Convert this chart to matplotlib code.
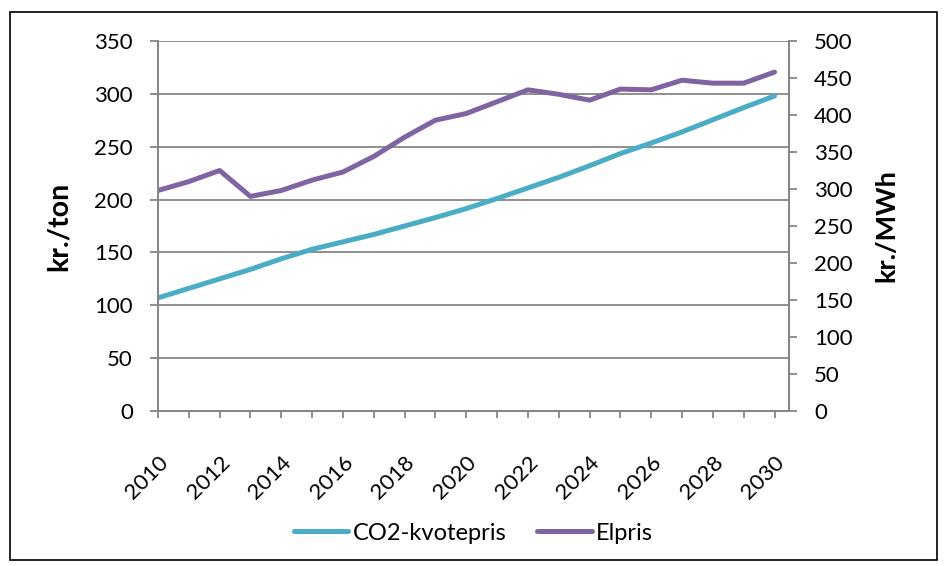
import matplotlib
matplotlib.use("Agg")
import matplotlib.pyplot as plt
from matplotlib.patches import Rectangle

plt.rcParams['font.family'] = ['Lato', 'DejaVu Sans']

years = list(range(2010, 2031))
co2 = [107, 116, 125, 134, 144, 153, 160, 167, 175, 183, 191.5, 201, 211,
       221, 232, 243.5, 253.5, 264, 275.5, 287, 298]
elpris = [298, 310, 325, 290, 298, 312, 323, 344, 370, 393, 402, 418, 434,
          428, 420, 435, 434, 447, 443, 443, 458]
left_ticks = list(range(0, 351, 50))
right_ticks = list(range(0, 501, 50))

grey = '#868686'
fig = plt.figure(figsize=(9.47, 5.66), dpi=100)
fig.patches.append(Rectangle((0.011, 0.01), 0.978, 0.968, transform=fig.transFigure,
                             fill=False, edgecolor='black', linewidth=1.2))
ax = fig.add_axes([158/947, 1-411/566, (789-158)/947, (411-41)/566])
ax2 = ax.twinx()

l1, = ax.plot(years, co2, color='#4BACC6', linewidth=3.6, solid_capstyle='round', label='CO2-kvotepris')
l2, = ax2.plot(years, elpris, color='#8064A2', linewidth=3.6, solid_capstyle='round', label='Elpris')

ax.set_xlim(2010, 2030.47)
ax.set_ylim(0, 350)
ax2.set_ylim(0, 500)
ax.set_yticks(left_ticks)
ax2.set_yticks(right_ticks)
ax.set_xticks(years)
ax.set_xticklabels([str(y) if (y - 2010) % 2 == 0 else '' for y in years], rotation=45,
                   ha='right', rotation_mode='anchor', fontsize=16)
ax.yaxis.grid(True, color=grey, linewidth=1.3)
ax.set_axisbelow(True)
for a in (ax, ax2):
    a.spines['top'].set_visible(False)
    for s in ('left', 'right', 'bottom'):
        a.spines[s].set_color(grey)
        a.spines[s].set_linewidth(1.3)
    a.tick_params(colors=grey, labelcolor='black', labelsize=16, width=1.3, length=6, pad=12)
ax.tick_params(axis='x', length=5, pad=25)
ax.set_ylabel('kr./ton', fontsize=20.5, fontweight='bold', labelpad=16)
ax2.set_ylabel('kr./MWh', fontsize=19.5, fontweight='bold', labelpad=16)

fig.legend(handles=[l1, l2], loc='center', bbox_to_anchor=(0.5, 1-533/566), ncol=2,
           frameon=False, fontsize=17, handlelength=2.3, columnspacing=1.3, handletextpad=0.2)

fig.savefig('out.png', dpi=100)
